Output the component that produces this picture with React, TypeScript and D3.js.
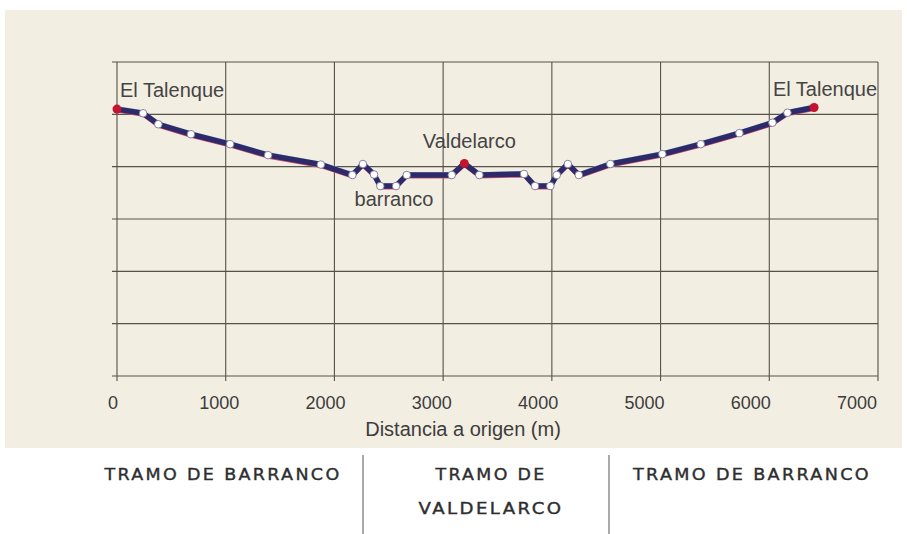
import React from "react";
import * as d3 from "d3";

const distances = [0, 240, 380, 680, 1040, 1390, 1875, 2165, 2262, 2364, 2422, 2567, 2665, 3079, 3195, 3333, 3744, 3845, 3986, 4045, 4147, 4248, 4538, 5016, 5370, 5725, 6029, 6167, 6412];
const elevations = [510, 502, 481, 462, 443, 422, 404, 384, 405, 385, 363, 363, 384, 384, 406, 384, 386, 363, 363, 384, 405, 384, 405, 424, 443, 464, 484, 503, 513];
const redIdx = [0, 14, 28];
const xTicks = [0, 1000, 2000, 3000, 4000, 5000, 6000, 7000];
const yTicks = [0, 100, 200, 300, 400, 500, 600];
const annotations = [
  { text: "El Talenque", d: 0, e: 510, dx: 3, dy: -12, anchor: "start" },
  { text: "El Talenque", d: 6412, e: 513, dx: 63, dy: -12, anchor: "end" },
  { text: "Valdelarco", d: 3195, e: 406, dx: 5, dy: -16, anchor: "middle" },
  { text: "barranco", d: 2548, e: 363, dx: 0, dy: 20, anchor: "middle" },
];
const sections = [
  { lines: ["TRAMO DE BARRANCO"], cx: 223, widths: [237] },
  { lines: ["TRAMO DE", "VALDELARCO"], cx: 491, widths: [111, 145] },
  { lines: ["TRAMO DE BARRANCO"], cx: 752, widths: [238] },
];
const dividers = [363, 609];

export default function App() {
  const W = 907, H = 534;
  const x = d3.scaleLinear().domain([0, 7000]).range([117, 878]);
  const xLab = d3.scaleLinear().domain([0, 7000]).range([113, 857]);
  const y = d3.scaleLinear().domain([0, 600]).range([376, 62]);
  const pts = distances.map((d, i) => [x(d), y(elevations[i])] as [number, number]);
  const line = d3.line<[number, number]>().x((p) => p[0]).y((p) => p[1]);
  const pathD = line(pts) || "";
  const grid = "#55524a";
  const font = "'Liberation Sans', Arial, sans-serif";
  return (
    <svg width={W} height={H} style={{ position: "absolute", left: 0, top: 0 }}>
      <rect x={0} y={0} width={W} height={H} fill="#ffffff" />
      <rect x={5} y={10} width={897} height={438} fill="#f3eee2" />
      {yTicks.map((t) => (
        <line key={"h" + t} x1={112} x2={x(7000)} y1={y(t)} y2={y(t)} stroke={grid} strokeWidth={1.1} />
      ))}
      {xTicks.map((t) => (
        <line key={"v" + t} x1={x(t)} x2={x(t)} y1={y(600)} y2={y(0) + 5} stroke={grid} strokeWidth={1.1} />
      ))}
      {xTicks.map((t) => (
        <text key={"l" + t} x={xLab(t)} y={409} textAnchor="middle" fontFamily={font} fontSize={18} fill="#3c3c3c">
          {t}
        </text>
      ))}
      <text x={463} y={436} textAnchor="middle" fontFamily={font} fontSize={20} fill="#3c3c3c">
        Distancia a origen (m)
      </text>
      <path d={pathD} transform="translate(0,2)" fill="none" stroke="#d0506e" strokeWidth={3} strokeLinejoin="round" />
      <path d={pathD} transform="translate(0,-1.6)" fill="none" stroke="#a8c8e8" strokeWidth={3} strokeLinejoin="round" />
      <path d={pathD} fill="none" stroke="#2c2a68" strokeWidth={5.5} strokeLinejoin="round" />
      {pts.map((p, i) =>
        redIdx.includes(i) ? (
          <circle key={"p" + i} cx={p[0]} cy={p[1]} r={4.5} fill="#c4132f" />
        ) : (
          <circle key={"p" + i} cx={p[0]} cy={p[1]} r={3.8} fill="#ffffff" stroke="#7a7898" strokeWidth={0.9} />
        )
      )}
      {annotations.map((a, i) => (
        <text key={"a" + i} x={x(a.d) + a.dx} y={y(a.e) + a.dy} textAnchor={a.anchor as any} fontFamily={font} fontSize={20} fill="#444">
          {a.text}
        </text>
      ))}
      {dividers.map((dx) => (
        <line key={"d" + dx} x1={dx} x2={dx} y1={455} y2={534} stroke="#555" strokeWidth={1} />
      ))}
      {sections.map((s, i) =>
        s.lines.map((ln, j) => (
          <text key={"s" + i + j} x={s.cx} y={480 + j * 34} textAnchor="middle" fontFamily="'DejaVu Sans', sans-serif" fontSize={15} letterSpacing={2} fill="#2e2e2e" stroke="#2e2e2e" strokeWidth={0.35} textLength={s.widths[j]} lengthAdjust="spacingAndGlyphs">
            {ln}
          </text>
        ))
      )}
    </svg>
  );
}
